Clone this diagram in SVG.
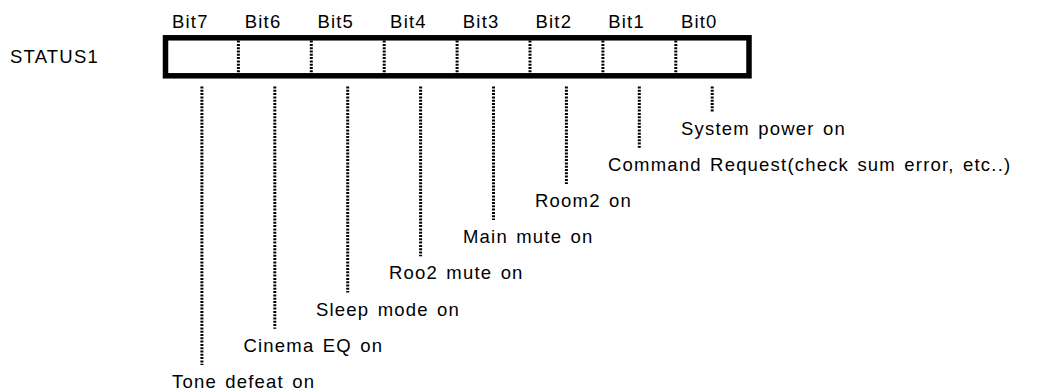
<svg xmlns="http://www.w3.org/2000/svg" width="1047" height="392" viewBox="0 0 1047 392">
<style>
text{font-family:"Liberation Sans",Arial,sans-serif;font-size:18.5px;letter-spacing:1.2px;word-spacing:2px;fill:#000}
.dot{stroke:#000;stroke-width:3;stroke-dasharray:2 1.3;fill:none}
.box{fill:#fff;stroke:#000;stroke-width:5.5}
</style>
<rect width="1047" height="392" fill="#fff"/>
<g id="register">
<text x="10" y="63">STATUS1</text>
<rect class="box" x="165.5" y="37.8" width="583.5" height="38"/>
<g id="dividers">
<line class="dot" x1="238.4" y1="40.6" x2="238.4" y2="73"/>
<line class="dot" x1="311.3" y1="40.6" x2="311.3" y2="73"/>
<line class="dot" x1="384.2" y1="40.6" x2="384.2" y2="73"/>
<line class="dot" x1="457.1" y1="40.6" x2="457.1" y2="73"/>
<line class="dot" x1="530" y1="40.6" x2="530" y2="73"/>
<line class="dot" x1="602.9" y1="40.6" x2="602.9" y2="73"/>
<line class="dot" x1="675.8" y1="40.6" x2="675.8" y2="73"/>
</g>
<g id="bitlabels">
<text x="172" y="28">Bit7</text>
<text x="244.7" y="28">Bit6</text>
<text x="317.4" y="28">Bit5</text>
<text x="390.1" y="28">Bit4</text>
<text x="462.8" y="28">Bit3</text>
<text x="535.5" y="28">Bit2</text>
<text x="608.2" y="28">Bit1</text>
<text x="680.9" y="28">Bit0</text>
</g>
</g>
<g id="connectors">
<line class="dot" x1="201.9" y1="86.5" x2="201.9" y2="364.9"/>
<line class="dot" x1="274.8" y1="86.5" x2="274.8" y2="328.7"/>
<line class="dot" x1="347.7" y1="86.5" x2="347.7" y2="292.5"/>
<line class="dot" x1="420.6" y1="86.5" x2="420.6" y2="256.3"/>
<line class="dot" x1="493.5" y1="86.5" x2="493.5" y2="220.1"/>
<line class="dot" x1="566.4" y1="86.5" x2="566.4" y2="183.9"/>
<line class="dot" x1="639.3" y1="86.5" x2="639.3" y2="147.7"/>
<line class="dot" x1="712.2" y1="86.5" x2="712.2" y2="111.5"/>
</g>
<g id="bit0"><text x="681" y="134.5">System power on</text></g>
<g id="bit1"><text x="608" y="170.7">Command Request(check sum error, etc..)</text></g>
<g id="bit2"><text x="535" y="206.9">Room2 on</text></g>
<g id="bit3"><text x="463" y="243.1">Main mute on</text></g>
<g id="bit4"><text x="389" y="279.3">Roo2 mute on</text></g>
<g id="bit5"><text x="316" y="315.5">Sleep mode on</text></g>
<g id="bit6"><text x="243.5" y="351.7">Cinema EQ on</text></g>
<g id="bit7"><text x="172" y="387.9">Tone defeat on</text></g>
</svg>
